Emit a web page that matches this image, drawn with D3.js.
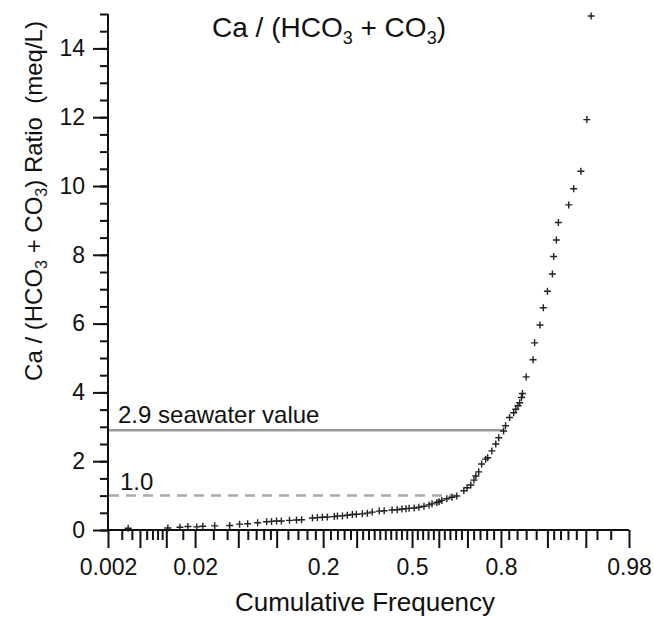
<!DOCTYPE html>
<html>
<head>
<meta charset="utf-8">
<script src="https://cdn.jsdelivr.net/npm/d3@7"></script>
<style>
    body { margin: 0; background: #fff; }
    text { font-family: "Liberation Sans", Arial, sans-serif; fill: #111; }
</style>
</head>
<body>
<svg id="chart" width="654" height="619"></svg>
<script>
// cumulative frequency (probability) and Ca/(HCO3+CO3) ratio
const cumFreq = [
    0.0036, 0.0104, 0.014, 0.0169, 0.0208, 0.0238, 0.0309, 0.0422, 0.0513, 0.0598,
    0.0719, 0.0843, 0.0918, 0.0998, 0.108, 0.123, 0.137, 0.148, 0.173, 0.185,
    0.198, 0.211, 0.231, 0.240, 0.255, 0.270, 0.286, 0.299, 0.319, 0.336,
    0.353, 0.378, 0.396, 0.425, 0.444, 0.462, 0.477, 0.489, 0.508, 0.526,
    0.545, 0.564, 0.575, 0.593, 0.601, 0.611, 0.629, 0.647, 0.664, 0.688,
    0.699, 0.711, 0.721, 0.727, 0.736, 0.745, 0.757, 0.763, 0.775, 0.786,
    0.794, 0.807, 0.812, 0.822, 0.832, 0.837, 0.842, 0.846, 0.850, 0.852,
    0.860, 0.874, 0.877, 0.887, 0.893, 0.900, 0.908, 0.910, 0.914, 0.917,
    0.931, 0.937, 0.945, 0.951, 0.955
];
const ratio = [
    0.05, 0.06, 0.08, 0.10, 0.09, 0.11, 0.12, 0.13, 0.17, 0.18,
    0.21, 0.24, 0.25, 0.26, 0.26, 0.28, 0.29, 0.30, 0.35, 0.36,
    0.37, 0.38, 0.39, 0.41, 0.41, 0.43, 0.45, 0.46, 0.47, 0.49,
    0.52, 0.55, 0.56, 0.58, 0.59, 0.61, 0.62, 0.63, 0.64, 0.66,
    0.69, 0.73, 0.76, 0.80, 0.82, 0.86, 0.91, 0.95, 0.99, 1.14,
    1.23, 1.31, 1.45, 1.57, 1.69, 1.92, 2.06, 2.10, 2.30, 2.50,
    2.68, 2.88, 3.03, 3.27, 3.41, 3.51, 3.61, 3.70, 3.85, 3.97,
    4.45, 4.95, 5.44, 5.96, 6.46, 6.94, 7.44, 7.95, 8.43, 8.94,
    9.45, 9.92, 10.43, 11.93, 14.94
];

const xLabels = [0.002, 0.02, 0.2, 0.5, 0.8, 0.98];
const xLongTicks = [0.002, 0.005, 0.01, 0.02, 0.05, 0.1, 0.2, 0.3, 0.5, 0.6, 0.7, 0.8, 0.9, 0.95, 0.98];
const xShortTicks = [
    0.003, 0.004, 0.006, 0.007, 0.008, 0.009, 0.015, 0.03, 0.04,
    0.06, 0.07, 0.08, 0.09, 0.12, 0.14, 0.16, 0.18, 0.22, 0.24, 0.26, 0.28,
    0.32, 0.34, 0.36, 0.38, 0.4, 0.42, 0.44, 0.46, 0.48, 0.52, 0.54, 0.56, 0.58,
    0.62, 0.64, 0.66, 0.68, 0.72, 0.74, 0.76, 0.78, 0.82, 0.84, 0.86, 0.88,
    0.91, 0.92, 0.93, 0.94, 0.96, 0.97
];
const yMajorTicks = [0, 2, 4, 6, 8, 10, 12, 14];
const yMinorTicks = d3.range(0, 15.01, 0.5);

const seawater = { value: 2.9, label: "2.9 seawater value", until: 0.807 };
const unity = { value: 1.0, label: "1.0", until: 0.66 };

// inverse normal cdf (Acklam) for the probability axis
function probit(p) {
    const a = [-39.69683028665376, 220.9460984245205, -275.9285104469687, 138.357751867269, -30.66479806614716, 2.506628277459239];
    const b = [-54.47609879822406, 161.5858368580409, -155.6989798598866, 66.80131188771972, -13.28068155288572];
    const c = [-0.007784894002430293, -0.3223964580411365, -2.400758277161838, -2.549732539343734, 4.374664141464968, 2.938163982698783];
    const d = [0.007784695709041462, 0.3224671290700398, 2.445134137142996, 3.754408661907416];
    const pl = 0.02425;
    let q, r;
    if (p < pl) {
        q = Math.sqrt(-2 * Math.log(p));
        return (((((c[0] * q + c[1]) * q + c[2]) * q + c[3]) * q + c[4]) * q + c[5]) /
            ((((d[0] * q + d[1]) * q + d[2]) * q + d[3]) * q + 1);
    }
    if (p > 1 - pl) {
        q = Math.sqrt(-2 * Math.log(1 - p));
        return -(((((c[0] * q + c[1]) * q + c[2]) * q + c[3]) * q + c[4]) * q + c[5]) /
            ((((d[0] * q + d[1]) * q + d[2]) * q + d[3]) * q + 1);
    }
    q = p - 0.5;
    r = q * q;
    return (((((a[0] * r + a[1]) * r + a[2]) * r + a[3]) * r + a[4]) * r + a[5]) * q /
        (((((b[0] * r + b[1]) * r + b[2]) * r + b[3]) * r + b[4]) * r + 1);
}

const margin = { left: 108, top: 14, right: 25, bottom: 89 };
const svg = d3.select("#chart");
const W = +svg.attr("width"), H = +svg.attr("height");

const zScale = d3.scaleLinear()
    .domain([probit(0.002), probit(0.98)])
    .range([margin.left, W - margin.right]);
const x = (p) => zScale(probit(p));

const y = d3.scaleLinear()
    .domain([0, 15])
    .range([H - margin.bottom, margin.top]);

const y0 = y(0);

// x axis: long ticks (labelled at some), then short ticks
svg.append("g")
    .attr("transform", `translate(0, ${y0})`)
    .call(d3.axisBottom(zScale)
        .tickValues(xLongTicks.map(probit))
        .tickSize(18)
        .tickPadding(11)
        .tickFormat((z, i) => xLabels.includes(xLongTicks[i]) ? String(xLongTicks[i]) : ""))
    .call(g => g.select(".domain").remove())
    .call(g => g.selectAll("line").attr("stroke", "#111").attr("stroke-width", 2))
    .call(g => g.selectAll("text").attr("font-size", 23).attr("fill", "#111"));

svg.append("g")
    .attr("transform", `translate(0, ${y0})`)
    .call(d3.axisBottom(zScale)
        .tickValues(xShortTicks.map(probit))
        .tickSize(10)
        .tickFormat(""))
    .call(g => g.select(".domain").remove())
    .call(g => g.selectAll("line").attr("stroke", "#111").attr("stroke-width", 2));

// y axis
svg.append("g")
    .attr("transform", `translate(${margin.left}, 0)`)
    .call(d3.axisLeft(y)
        .tickValues(yMinorTicks)
        .tickSize(8)
        .tickFormat(""))
    .call(g => g.select(".domain").remove())
    .call(g => g.selectAll("line").attr("stroke", "#111").attr("stroke-width", 2));

svg.append("g")
    .attr("transform", `translate(${margin.left}, 0)`)
    .call(d3.axisLeft(y)
        .tickValues(yMajorTicks)
        .tickSize(15)
        .tickPadding(8)
        .tickFormat(d3.format("d")))
    .call(g => g.select(".domain").remove())
    .call(g => g.selectAll("line").attr("stroke", "#111").attr("stroke-width", 2))
    .call(g => g.selectAll("text").attr("font-size", 23).attr("fill", "#111"));

// axis lines
svg.append("line")
    .attr("x1", margin.left).attr("x2", margin.left)
    .attr("y1", y(15)).attr("y2", y0)
    .attr("stroke", "#111").attr("stroke-width", 2);
svg.append("line")
    .attr("x1", margin.left).attr("x2", zScale.range()[1])
    .attr("y1", y0).attr("y2", y0)
    .attr("stroke", "#111").attr("stroke-width", 2);

// reference lines
svg.append("line")
    .attr("x1", margin.left + 1).attr("x2", x(seawater.until))
    .attr("y1", y(seawater.value)).attr("y2", y(seawater.value))
    .attr("stroke", "#9a9a9a").attr("stroke-width", 2.5);
svg.append("text")
    .attr("x", margin.left + 10).attr("y", y(seawater.value) - 7)
    .attr("font-size", 24)
    .text(seawater.label);

svg.append("line")
    .attr("x1", margin.left + 1).attr("x2", x(unity.until))
    .attr("y1", y(unity.value)).attr("y2", y(unity.value))
    .attr("stroke", "#ababab").attr("stroke-width", 2.5)
    .attr("stroke-dasharray", "10,7");
svg.append("text")
    .attr("x", margin.left + 12).attr("y", y(unity.value) - 6)
    .attr("font-size", 24)
    .text(unity.label);

// data points as small crosses
svg.append("g")
    .selectAll("path")
    .data(cumFreq)
    .enter()
    .append("path")
    .attr("transform", (d, i) => `translate(${x(d)}, ${y(ratio[i])})`)
    .attr("d", "M-3.5,0H3.5M0,-3.5V3.5")
    .attr("stroke", "#222")
    .attr("stroke-width", 1.4);

// title
const title = svg.append("text")
    .attr("x", 212).attr("y", 37)
    .attr("font-size", 28);
title.append("tspan").text("Ca / (HCO");
title.append("tspan").attr("font-size", 18).attr("dy", 7).text("3");
title.append("tspan").attr("dy", -7).text(" + CO");
title.append("tspan").attr("font-size", 18).attr("dy", 7).text("3");
title.append("tspan").attr("dy", -7).text(")");

// axis titles
svg.append("text")
    .attr("x", 365).attr("y", 611)
    .attr("text-anchor", "middle")
    .attr("font-size", 26)
    .text("Cumulative Frequency");

const yTitle = svg.append("text")
    .attr("transform", "translate(42, 201) rotate(-90)")
    .attr("text-anchor", "middle")
    .attr("font-size", 24);
yTitle.append("tspan").text("Ca / (HCO");
yTitle.append("tspan").attr("font-size", 16).attr("dy", 5).text("3");
yTitle.append("tspan").attr("dy", -5).text(" + CO");
yTitle.append("tspan").attr("font-size", 16).attr("dy", 5).text("3");
yTitle.append("tspan").attr("dy", -5).text(") Ratio\u00a0 (meq/L)");
</script>
</body>
</html>
